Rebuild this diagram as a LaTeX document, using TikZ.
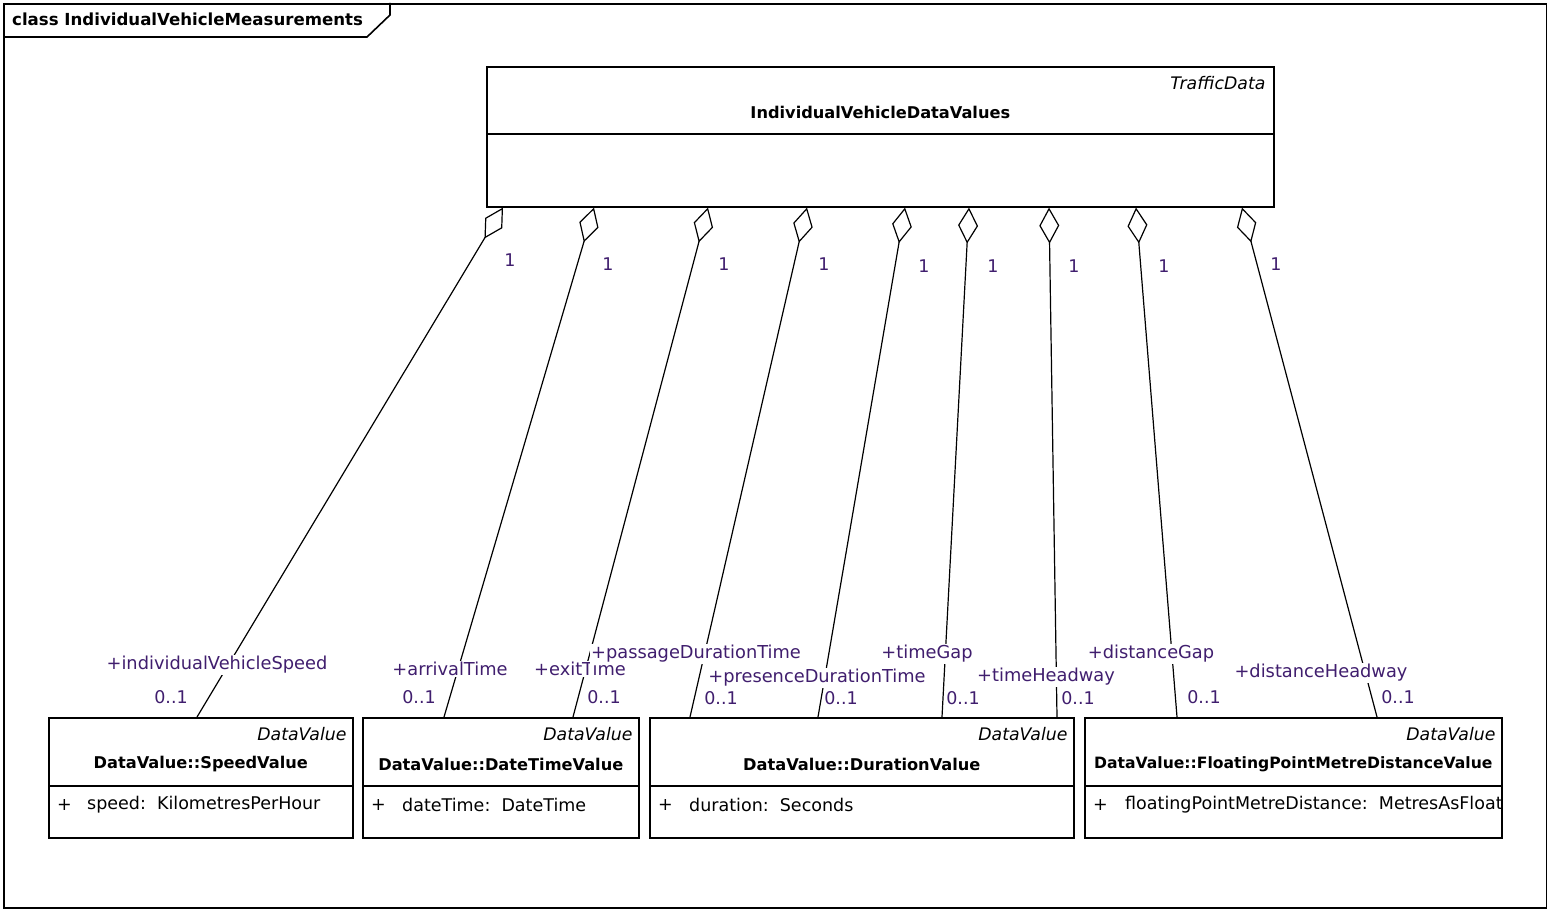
\documentclass[tikz,border=0pt]{standalone}
\usepackage{fontspec}
\setmainfont{DejaVu Sans}
\usetikzlibrary{arrows.meta}
\definecolor{roleink}{RGB}{64,30,110}

\begin{document}
\begin{tikzpicture}[x=1pt, y=-1pt,
  classbox/.style={draw, rectangle, line width=1.6pt, inner sep=0pt, anchor=north west},
  stereo/.style={font=\fontsize{17.3}{20}\selectfont\itshape, inner sep=0pt, anchor=east},
  cname/.style={font=\fontsize{16.2}{19}\selectfont\bfseries, inner sep=0pt},
  attr/.style={font=\fontsize{17.5}{20}\selectfont, inner sep=0pt, anchor=west},
  role/.style={font=\fontsize{17.8}{20}\selectfont, text=roleink, fill=white, inner sep=1pt},
  mult/.style={font=\fontsize{17.5}{20}\selectfont, text=roleink, inner sep=0pt},
  agg/.style={line width=1.2pt, {Diamond[open, length=36pt, width=20pt, line width=1.2pt]}-},
]
\useasboundingbox (0,0) rectangle (1547,909);

% diagram frame with its name tab
\node[draw, line width=1.6pt, minimum width=1543pt, minimum height=904pt, anchor=north west] (frame) at (3,3) {};
\draw[line width=1.6pt] (3,37) -- (367,37) -- (390,15) -- (390,3);
\node[cname, font=\fontsize{16.6}{19}\selectfont\bfseries, anchor=west] (frametitle) at (12,19) {class IndividualVehicleMeasurements};

% aggregate class
\node[classbox, minimum width=787pt, minimum height=140pt] (ivdv) at (486,66) {};
\draw[line width=1.6pt] ([yshift=-68pt]ivdv.north west) -- ([yshift=-68pt]ivdv.north east);
\node[stereo] (ivdvst) at ([xshift=-9pt, yshift=-17pt]ivdv.north east) {TrafficData};
\node[cname] (ivdvname) at ([yshift=-46pt]ivdv.north) {IndividualVehicleDataValues};

% part classes
\node[classbox, minimum width=304pt, minimum height=120pt] (speed) at (48,717) {};
\node[classbox, minimum width=276pt, minimum height=120pt] (datetime) at (362,717) {};
\node[classbox, minimum width=424pt, minimum height=120pt] (duration) at (649,717) {};
\node[classbox, minimum width=417pt, minimum height=120pt] (fpmd) at (1084,717) {};

\foreach \b in {speed, datetime, duration, fpmd}{
  \draw[line width=1.6pt] ([yshift=-69pt]\b.north west) -- ([yshift=-69pt]\b.north east);
  \node[stereo] (\b st) at ([xshift=-7pt, yshift=-17pt]\b.north east) {DataValue};
  \node[attr] (\b plus) at ([xshift=9pt, yshift=-88pt]\b.north west) {+};
}
\node[cname] (speedname) at ([yshift=-47pt]speed.north) {DataValue::SpeedValue};
\node[cname] (datetimename) at ([yshift=-47pt]datetime.north) {DataValue::DateTimeValue};
\node[cname] (durationname) at ([yshift=-47pt]duration.north) {DataValue::DurationValue};
\node[cname, font=\fontsize{15.6}{19}\selectfont\bfseries] (fpmdname) at ([yshift=-47pt]fpmd.north) {DataValue::FloatingPointMetreDistanceValue};

\node[attr] (speedattr) at ([xshift=39pt, yshift=-88pt]speed.north west) {speed:\ \ KilometresPerHour};
\node[attr] (datetimeattr) at ([xshift=40pt, yshift=-88pt]datetime.north west) {dateTime:\ \ DateTime};
\node[attr] (durationattr) at ([xshift=40pt, yshift=-88pt]duration.north west) {duration:\ \ Seconds};
\begin{scope}
  \clip (fpmd.north west) rectangle (fpmd.south east);
  \node[attr] (fpmdattr) at ([xshift=41pt, yshift=-88pt]fpmd.north west) {floatingPointMetreDistance:\ \ MetresAsFloat};
\end{scope}
\draw[line width=1.6pt] (fpmd.north east) -- (fpmd.south east);

% aggregations
\draw[agg] ([xshift=17pt]ivdv.south west) -- ([xshift=149pt]speed.north west);
\draw[agg] ([xshift=108pt]ivdv.south west) -- ([xshift=82pt]datetime.north west);
\draw[agg] ([xshift=222pt]ivdv.south west) -- ([xshift=211pt]datetime.north west);
\draw[agg] ([xshift=321pt]ivdv.south west) -- ([xshift=41pt]duration.north west);
\draw[agg] ([xshift=419pt]ivdv.south west) -- ([xshift=169pt]duration.north west);
\draw[agg] ([xshift=483pt]ivdv.south west) -- ([xshift=293pt]duration.north west);
\draw[agg] ([xshift=563pt]ivdv.south west) -- ([xshift=408pt]duration.north west);
\draw[agg] ([xshift=650pt]ivdv.south west) -- ([xshift=93pt]fpmd.north west);
\draw[agg] ([xshift=756pt]ivdv.south west) -- ([xshift=293pt]fpmd.north west);

% multiplicities at the aggregate end
\node[mult] (m1) at (510,260) {1};
\node[mult] (m2) at (608,264) {1};
\node[mult] (m3) at (724,264) {1};
\node[mult] (m4) at (824,264) {1};
\node[mult] (m5) at (924,266) {1};
\node[mult] (m6) at (993,266) {1};
\node[mult] (m7) at (1074,266) {1};
\node[mult] (m8) at (1164,266) {1};
\node[mult] (m9) at (1276,264) {1};

% role names
\node[role] (r1) at (217,665) {+individualVehicleSpeed};
\node[role] (r2) at (450,669) {+arrivalTime};
\node[role] (r3) at (580,669) {+exitTime};
\node[role] (r4) at (696,654) {+passageDurationTime};
\node[role] (r5) at (817,678) {+presenceDurationTime};
\node[role] (r6) at (927,654) {+timeGap};
\node[role] (r7) at (1046,677) {+timeHeadway};
\node[role] (r8) at (1151,654) {+distanceGap};
\node[role] (r9) at (1321,673) {+distanceHeadway};

% multiplicities at the part end
\node[mult] (p1) at (171,697) {0..1};
\node[mult] (p2) at (419,697) {0..1};
\node[mult] (p3) at (604,697) {0..1};
\node[mult] (p4) at (721,698) {0..1};
\node[mult] (p5) at (841,698) {0..1};
\node[mult] (p6) at (963,698) {0..1};
\node[mult] (p7) at (1078,698) {0..1};
\node[mult] (p8) at (1204,697) {0..1};
\node[mult] (p9) at (1398,697) {0..1};
\end{tikzpicture}
\end{document}
